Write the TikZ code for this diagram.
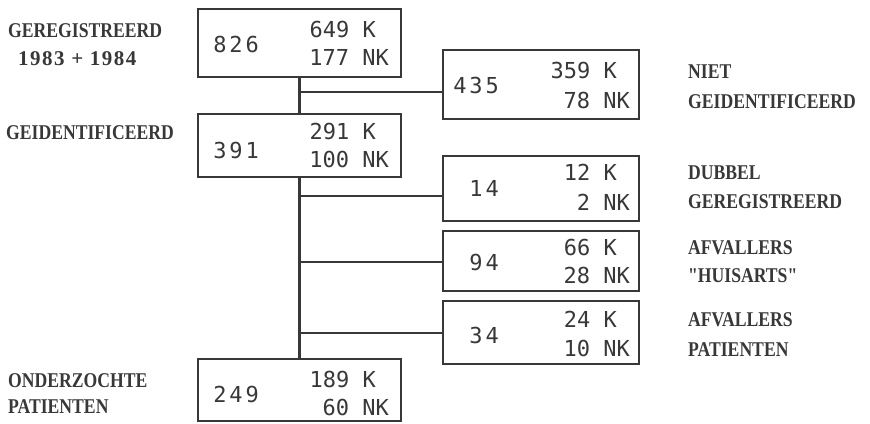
\documentclass[tikz,border=0pt]{standalone}
\usepackage{fontspec}
\newfontfamily\numfont{DejaVu Sans Mono}
\newfontfamily\bignumfont[LetterSpace=13]{DejaVu Sans Mono}
\newfontfamily\labfont[FakeStretch=0.84]{Liberation Serif}
\newfontfamily\labdigfont[LetterSpace=7]{Liberation Serif}
\definecolor{ink}{HTML}{383838}
\begin{document}
\begin{tikzpicture}[x=1pt,y=-1pt,
  box/.style={draw=ink,line width=2.2pt,anchor=north west,inner sep=0pt},
  conn/.style={draw=ink,line width=2.8pt},
  lab/.style={anchor=base west,inner sep=0pt,text=ink,font=\labfont\bfseries\fontsize{21}{24}\selectfont},
  labdig/.style={anchor=base west,inner sep=0pt,text=ink,font=\labdigfont\bfseries\fontsize{21}{24}\selectfont},
  num/.style={anchor=base east,inner sep=0pt,text=ink,font=\numfont\fontsize{22}{26}\selectfont},
  big/.style={anchor=east,inner sep=0pt,text=ink,font=\bignumfont\fontsize{22}{26}\selectfont}]
\useasboundingbox (0,0) rectangle (870,423);
% main boxes
\node[box,minimum width=203pt,minimum height=68pt] (A) at (197,8) {};
\node[box,minimum width=203pt,minimum height=63pt] (B) at (197,113) {};
\node[box,minimum width=203pt,minimum height=62pt] (C) at (197,358) {};
% right boxes
\node[box,minimum width=196pt,minimum height=69pt] (R1) at (442,49) {};
\node[box,minimum width=196pt,minimum height=65pt] (R2) at (442,155) {};
\node[box,minimum width=196pt,minimum height=60pt] (R3) at (442,230) {};
\node[box,minimum width=196pt,minimum height=63pt] (R4) at (442,300) {};
% connectors
\coordinate (y1) at (0,92);
\coordinate (y2) at (0,196);
\coordinate (y3) at (0,262);
\coordinate (y4) at (0,333);
\draw[conn] (A.south) -- (B.north);
\draw[conn] (B.south) -- (C.north);
\draw[conn] (A.south |- y1) -- (R1.west |- y1);
\draw[conn] (B.south |- y2) -- (R2.west |- y2);
\draw[conn] (B.south |- y3) -- (R3.west |- y3);
\draw[conn] (B.south |- y4) -- (R4.west |- y4);
% box contents
\node[big] (nA) at (259,44) {826};
\node[num] (kA) at (376,37) {649 K};
\node[num] (nkA) at (389,65) {177 NK};
\node[big] (nB) at (259,150) {391};
\node[num] (kB) at (376,139) {291 K};
\node[num] (nkB) at (389,167) {100 NK};
\node[big] (nC) at (259,394) {249};
\node[num] (kC) at (376,387) {189 K};
\node[num] (nkC) at (389,415) {60 NK};
\node[big] (n1) at (499,85) {435};
\node[num] (k1) at (617,78) {359 K};
\node[num] (nk1) at (630,108) {78 NK};
\node[big] (n2) at (499,188) {14};
\node[num] (k2) at (617,180) {12 K};
\node[num] (nk2) at (630,210) {2 NK};
\node[big] (n3) at (499,262) {94};
\node[num] (k3) at (617,255) {66 K};
\node[num] (nk3) at (630,283) {28 NK};
\node[big] (n4) at (499,335) {34};
\node[num] (k4) at (617,327) {24 K};
\node[num] (nk4) at (630,356) {10 NK};
% left labels
\node[lab] (l1) at (8,37) {GEREGISTREERD};
\node[labdig] (l2) at (18,65) {1983 + 1984};
\node[lab] (l3) at (6,139) {GEIDENTIFICEERD};
\node[lab] (l4) at (8,387) {ONDERZOCHTE};
\node[lab] (l5) at (8,413) {PATIENTEN};
% right labels
\node[lab] (r1a) at (688,78) {NIET};
\node[lab] (r1b) at (688,108) {GEIDENTIFICEERD};
\node[lab] (r2a) at (688,179) {DUBBEL};
\node[lab] (r2b) at (688,208) {GEREGISTREERD};
\node[lab] (r3a) at (688,254) {AFVALLERS};
\node[lab] (r3b) at (688,282) {{\char34}HUISARTS{\char34}};
\node[lab] (r4a) at (688,326) {AFVALLERS};
\node[lab] (r4b) at (688,356) {PATIENTEN};
\end{tikzpicture}
\end{document}
